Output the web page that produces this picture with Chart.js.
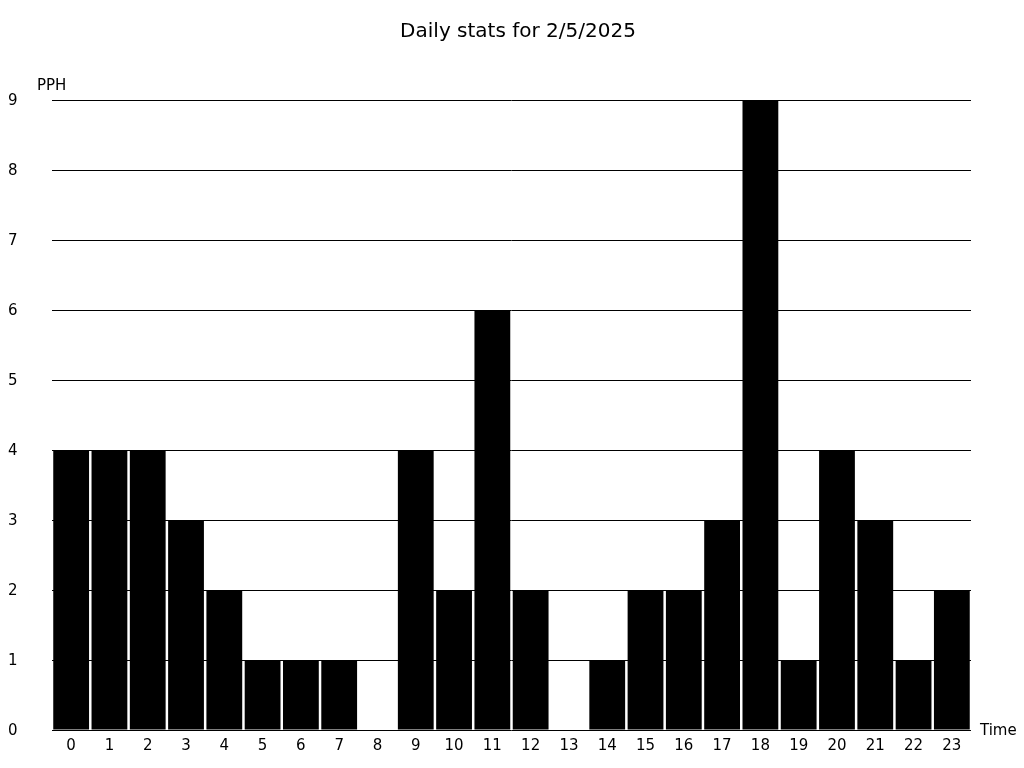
<!DOCTYPE html>
<html>
<head>
<meta charset="utf-8">
<style>
  html, body { margin: 0; padding: 0; background: #ffffff; }
  #c { display: block; }
</style>
<script src="https://cdn.jsdelivr.net/npm/chart.js@4"></script>
</head>
<body>
<canvas id="c" width="1024" height="768"></canvas>
<script>
const TITLE = 'Daily stats for 2/5/2025';
const Y_LABEL = 'PPH';
const X_LABEL = 'Time';
const hours = ['0','1','2','3','4','5','6','7','8','9','10','11','12','13','14','15','16','17','18','19','20','21','22','23'];
const pph = [4, 4, 4, 3, 2, 1, 1, 1, 0, 4, 2, 6, 2, 0, 1, 2, 2, 3, 9, 1, 4, 3, 1, 2];
const yMin = 0;
const yMax = 9;
const yStep = 1;

const FONT = 'DejaVu Sans';

const textPlugin = {
  id: 'chartTexts',
  afterDraw(chart) {
    const ctx = chart.ctx;
    const area = chart.chartArea;
    ctx.save();
    ctx.fillStyle = '#000';
    ctx.textBaseline = 'middle';
    ctx.textAlign = 'center';
    ctx.font = '20px "' + FONT + '"';
    ctx.fillText(TITLE, 518, 32);
    ctx.font = '15px "' + FONT + '"';
    ctx.textAlign = 'left';
    ctx.fillText(Y_LABEL, 37, area.top - 14);
    ctx.fillText(X_LABEL, area.right + 9, area.bottom + 1);
    ctx.restore();
  }
};

new Chart(document.getElementById('c'), {
  type: 'bar',
  data: {
    labels: hours,
    datasets: [{
      data: pph,
      backgroundColor: '#000000',
      borderWidth: 0,
      categoryPercentage: 1.0,
      barPercentage: 0.935
    }]
  },
  options: {
    responsive: false,
    devicePixelRatio: 1,
    animation: false,
    layout: { padding: { left: 8, right: 53, top: 100, bottom: 0 } },
    plugins: {
      legend: { display: false },
      tooltip: { enabled: false },
      title: { display: false }
    },
    scales: {
      x: {
        grid: { display: false, drawTicks: false },
        border: { display: false },
        ticks: {
          color: '#000',
          font: { family: FONT, size: 15 },
          padding: 7,
          maxRotation: 0,
          autoSkip: false
        },
        afterFit(scale) { scale.height = 38; }
      },
      y: {
        min: yMin,
        max: yMax,
        grid: { color: '#000', lineWidth: 1, drawTicks: false },
        border: { display: false },
        ticks: {
          stepSize: yStep,
          color: '#000',
          font: { family: FONT, size: 15 },
          crossAlign: 'far',
          padding: 0,
          labelOffset: 1
        },
        afterFit(scale) { scale.width = 44; }
      }
    }
  },
  plugins: [textPlugin]
});
</script>
</body>
</html>
